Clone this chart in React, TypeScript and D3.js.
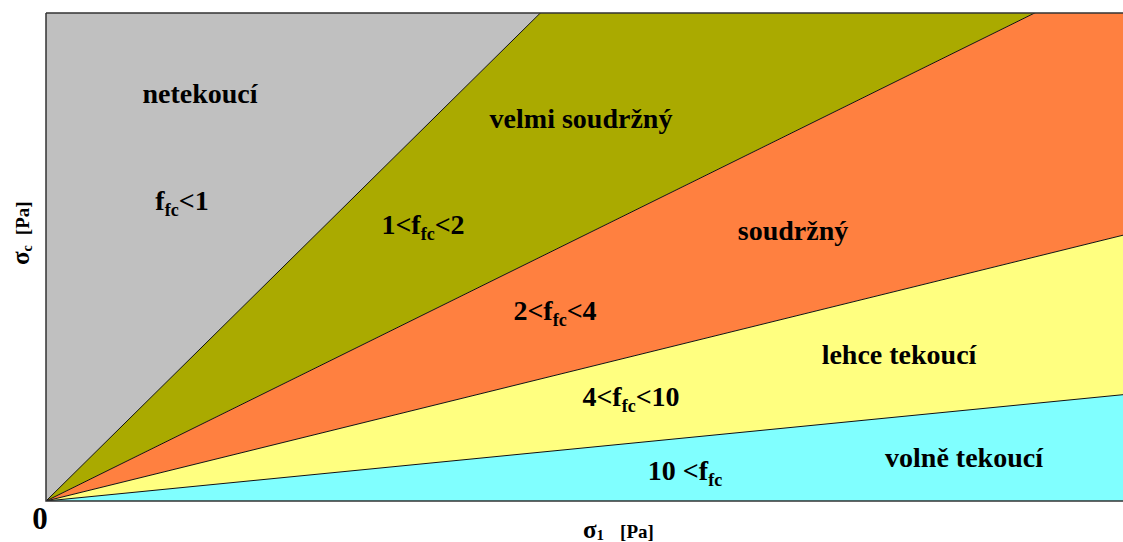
import React from "react";
import * as d3 from "d3";

// flowability boundaries ffc = σ1 / σc
const boundaries = [1, 2, 4, 10];
const regionNames = ["netekoucí", "velmi soudržný", "soudržný", "lehce tekoucí", "volně tekoucí"];
const regionRanges = [
  { pre: "", post: "<1" },
  { pre: "1<", post: "<2" },
  { pre: "2<", post: "<4" },
  { pre: "4<", post: "<10" },
  { pre: "10 <", post: "" },
];
const regionColors = ["#C0C0C0", "#AAAA00", "#FF8040", "#FFFF80", "#80FFFF"];

const W = 1123;
const H = 542;
const M = { left: 46, top: 13, right: 1125, bottom: 501 };
const aspect = 1.013; // x-unit pixel size relative to y-unit pixel size

// label layout (pixels)
const nameLayout = [
  [200, 103],
  [581, 128],
  [793, 240],
  [899, 364],
  [964, 467],
];
const rangeLayout = [
  [182, 210],
  [423, 234],
  [555, 320],
  [631, 406],
  [685, 480],
];

export default function App() {
  const plotW = M.right - M.left;
  const plotH = M.bottom - M.top;
  const yMax = 1;
  const xMax = (plotW / plotH) * yMax / aspect;
  const x = d3.scaleLinear().domain([0, xMax]).range([M.left, M.right]);
  const y = d3.scaleLinear().domain([0, yMax]).range([M.bottom, M.top]);
  const B = 100;
  const line = d3
    .line<[number, number]>()
    .x((d) => x(d[0]))
    .y((d) => y(d[1]));

  const polys: [number, number][][] = [];
  polys.push([[0, 0], [0, B], [B, B / boundaries[0]]]);
  for (let i = 0; i < boundaries.length - 1; i++) {
    polys.push([[0, 0], [B, B / boundaries[i]], [B, B / boundaries[i + 1]]]);
  }
  polys.push([[0, 0], [B, B / boundaries[boundaries.length - 1]], [B, 0]]);

  const font = "'Liberation Serif', 'Times New Roman', serif";

  return (
    <svg
      width={W}
      height={H}
      style={{ position: "absolute", left: 0, top: 0, background: "#fff" }}
      fontFamily={font}
    >
      <defs>
        <clipPath id="plotclip">
          <rect x={M.left} y={M.top} width={plotW} height={plotH} />
        </clipPath>
      </defs>
      <g clipPath="url(#plotclip)">
        {polys.map((p, i) => (
          <path key={i} d={(line(p) || "") + "Z"} fill={regionColors[i]} stroke="none" />
        ))}
        {boundaries.map((f) => (
          <path
            key={f}
            d={line([[0, 0], [B, B / f]]) || ""}
            stroke="#111"
            strokeWidth={1}
            fill="none"
          />
        ))}
      </g>
      <path
        d={`M${M.left},${M.top}H${W + 2}M${M.left},${M.top}V${M.bottom}H${W + 2}`}
        stroke="#333"
        strokeWidth={1.5}
        fill="none"
      />
      {regionNames.map((n, i) => (
        <text
          key={n}
          x={nameLayout[i][0]}
          y={nameLayout[i][1]}
          textAnchor="middle"
          fontSize={28}
          fontWeight="bold"
          fill="#000"
        >
          {n}
        </text>
      ))}
      {regionRanges.map((r, i) => (
        <text
          key={i}
          x={rangeLayout[i][0]}
          y={rangeLayout[i][1]}
          textAnchor="middle"
          fontSize={28}
          fontWeight="bold"
          fill="#000"
        >
          {r.pre}
          <tspan>f</tspan>
          <tspan fontSize={18} dy={6}>fc</tspan>
          <tspan dy={-6}>{r.post}</tspan>
        </text>
      ))}
      <text x={x(0) - 6} y={529} textAnchor="middle" fontSize={31} fontWeight="bold">
        0
      </text>
      <text x={583} y={538} fontWeight="bold" fontSize={25}>
        σ<tspan fontSize={15} dy={2}>1</tspan>
        <tspan dy={-2} fontSize={19} dx={16}>[Pa]</tspan>
      </text>
      <text
        transform="translate(29,265) rotate(-90)"
        fontWeight="bold"
        fontSize={25}
      >
        σ<tspan fontSize={14} dy={3}>c</tspan>
        <tspan dy={-3} fontSize={19} dx={10}>[Pa]</tspan>
      </text>
    </svg>
  );
}
